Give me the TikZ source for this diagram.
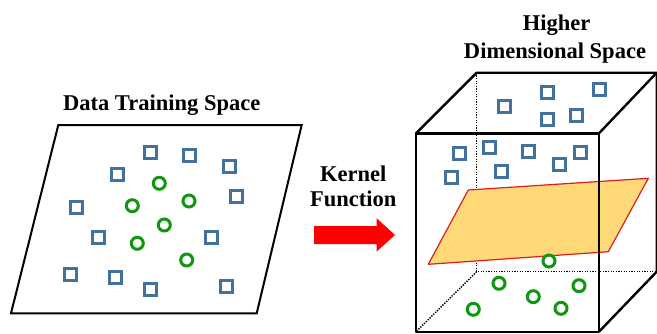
\documentclass[tikz,border=0pt]{standalone}
\usepackage{fontspec}
\setmainfont{Liberation Serif}
\begin{document}
\begin{tikzpicture}[x=1bp,y=-1bp,
  sqr/.style={draw={rgb,255:red,65;green,113;blue,156},line width=3bp,minimum size=12bp,inner sep=0pt,outer sep=0pt},
  circ/.style={draw={rgb,255:red,16;green,150;blue,16},line width=3bp,circle,minimum size=12bp,inner sep=0pt,outer sep=0pt},
  ttl/.style={font=\fontsize{22.6}{26}\selectfont\bfseries,anchor=base,inner sep=0pt},
  edge/.style={line width=2.4bp,line join=round},
  hid/.style={line width=1.5bp,dash pattern=on 1.3bp off 1.3bp},
]
\useasboundingbox (0,0) rectangle (657,333);
\fill[white] (0,0) rectangle (657,333);
% titles
\node[ttl] (t1) at (161.7,110.7) {Data Training Space};
\node[ttl] (t2) at (556.7,30.7) {Higher};
\node[ttl] (t3) at (555,58.3) {Dimensional Space};
\node[ttl] (k1) at (353.3,181.7) {Kernel};
\node[ttl] (k2) at (353.3,206.7) {Function};
% left plane
\draw[line width=2bp,line join=miter] (58.3,125) -- (301.7,125) -- (256.7,313.3) -- (11,313.3) -- cycle;
% arrow
\fill[red] (314,226) -- (376.7,226) -- (376.7,218.3) -- (395,235) -- (376.7,251.5) -- (376.7,244) -- (314,244) -- cycle;
% cube coordinates
\coordinate (f1) at (416,133.3);
\coordinate (f2) at (599,133.3);
\coordinate (f3) at (599,331.7);
\coordinate (f4) at (416,331.7);
\coordinate (b1) at (476.7,72.7);
\coordinate (b2) at (656.7,72.7);
\coordinate (b3) at (656.7,271.7);
\coordinate (b4) at (476.7,271.7);
% hidden edges
\draw[hid] (b1) -- (b4) -- (b3);
\draw[hid] (b4) -- (f4);
% separating plane
\draw[fill={rgb,255:red,255;green,217;blue,120},draw={rgb,255:red,220;green,30;blue,30},line width=1.2bp,line join=round]
  (468.3,190) -- (648.3,178.3) -- (608.3,251.7) -- (428.3,264.3) -- cycle;
% visible edges
\draw[edge] (f1) -- (f2) -- (f3) -- (f4) -- cycle;
\draw[edge] (f1) -- (b1) -- (b2) -- (f2);
\draw[edge] (b2) -- (b3) -- (f3);
% left squares
\foreach \x/\y [count=\i] in {150/152.7,189/155,229.3/166.7,117.7/174.3,236/196,76/207.7,98.3/237.7,211.7/237.7,70/274.3,115/277.7,150/289,226.7/286.7}
  \node[sqr] (ls\i) at (\x,\y) {};
% left circles
\foreach \x/\y [count=\i] in {159.3/183.3,132.3/205.7,189/201,164.3/225,137.3/243.3,186.7/260}
  \node[circ] (lc\i) at (\x,\y) {};
% right squares
\foreach \x/\y [count=\i] in {504/106.7,547.7/92.3,599/89.3,547.7/119,576.7/115.7,459.3/153.3,489/147.7,528.3/151,580.7/152.3,559.3/164.3,501.7/171,451.7/177.7}
  \node[sqr] (rs\i) at (\x,\y) {};
% right circles
\foreach \x/\y [count=\i] in {549/261,499/283.3,579/285.7,533.3/296.7,473.3/309.3,561/308.3}
  \node[circ] (rc\i) at (\x,\y) {};
\end{tikzpicture}
\end{document}
